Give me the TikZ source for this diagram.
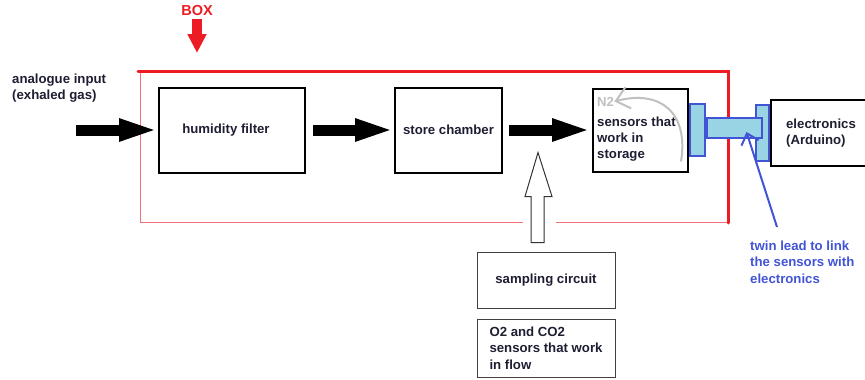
\documentclass[tikz,border=0pt]{standalone}
\usepackage{fontspec}
\setmainfont{Liberation Sans}
\usetikzlibrary{
  arrows.meta,
  positioning
}
\definecolor{boxred}{RGB}{237,28,36}
\definecolor{thinred}{RGB}{242,112,120}
\definecolor{inkdark}{RGB}{30,30,50}
\definecolor{leadblue}{RGB}{66,84,214}
\definecolor{leadfill}{RGB}{152,212,228}
\definecolor{ntwogray}{RGB}{192,192,192}
\tikzset{
  txt/.style={font=\fontsize{13.2}{16.3}\selectfont\bfseries,
    text=inkdark,inner sep=0pt,align=left},
  block/.style={txt,draw=black,line width=2pt,minimum height=85pt},
  flowbox/.style={txt,draw=black!75,line width=1pt,minimum width=138pt},
  plate/.style={draw=leadblue,line width=2pt,fill=leadfill,inner sep=0pt},
  fatflow/.style={-{Triangle[length=40pt,width=20pt]},line width=11pt,draw=black},
  redflow/.style={-{Triangle[length=19pt,width=18pt]},line width=10pt,draw=boxred},
  ntwoflow/.style={-{Straight Barb[length=13pt,width=22pt]},line width=2pt,draw=ntwogray},
  leadptr/.style={-{Straight Barb[length=10pt,width=18pt]},line width=2pt,draw=leadblue},
  thickframe/.style={draw=boxred,line width=3pt,line cap=round},
  thinframe/.style={draw=thinred,line width=1pt},
  openarrow/.style={draw=black!80,fill=white,line width=1pt}
}

\begin{document}
\begin{tikzpicture}[x=1pt,y=-1pt]
  \useasboundingbox (0,0) rectangle (865,380);
  % the box
  \draw[thinframe] (140,71) -- (140,222) -- (523,222);
  \draw[thinframe] (556,222) -- (728,222);
  \draw[thickframe] (138,71) -- (728,71) -- (728,223);
  \node[txt,text=boxred,font=\fontsize{14.5}{16}\selectfont\bfseries] (boxlbl) at (197,11) {BOX};
  \coordinate (boxtail) at (197,19);
  \coordinate (boxtip) at (197,53);
  \draw[redflow] (boxtail) -- (boxtip);
  % main chain
  \node[block,minimum width=146pt] (hum) at (232,130) {\hspace*{-12pt}humidity filter};
  \node[block,minimum width=107pt,right=88pt of hum] (store) {store chamber};
  \node[block,minimum width=95pt,minimum height=83pt,right=89pt of store] (sens) {};
  \node[txt,anchor=west] (senstxt) at ([xshift=5pt,yshift=-9pt]sens.west)
    {sensors that\\work in\\storage};
  \node[txt,text=ntwogray,anchor=west] (ntwo) at ([xshift=5pt,yshift=-14pt]sens.north west) {N2};
  \draw[ntwoflow] ([xshift=-8pt,yshift=11pt]sens.south east)
    .. controls +(8,-50) and +(45,-12) .. (ntwo.east);
  \node[block,minimum width=100pt,minimum height=66pt,right=81pt of sens,yshift=-3pt] (elec)
    {electronics\\(Arduino)};
  \node[txt,anchor=west] (gastxt) at (12,88) {analogue input\\(exhaled gas)};
  \coordinate (gasin) at (76,130);
  \draw[fatflow] (gasin) -- ([xshift=1pt]hum.west);
  \draw[fatflow,shorten <=7pt,shorten >=-1pt] (hum.east) -- (store.west);
  \draw[fatflow,shorten <=6pt] (store.east) -- (sens.west);
  % twin lead
  \node[plate,minimum width=15pt,minimum height=52pt,anchor=west] (lplate) at (sens.east) {};
  \node[plate,minimum width=13pt,minimum height=56pt,anchor=east] (rplate) at (elec.west) {};
  \node[plate,minimum width=55pt,minimum height=20pt,anchor=west] (bar)
    at ([yshift=2pt]lplate.east) {};
  \coordinate (leadtip) at ([xshift=12pt,yshift=-4pt]bar.center);
  \coordinate (leadfoot) at (777,227);
  \draw[leadptr] (leadfoot) -- (leadtip);
  \node[txt,text=leadblue,anchor=west] (leadtxt) at (750,262)
    {twin lead to link\\the sensors with\\electronics};
  % sampling
  \node[flowbox,minimum height=56pt] (samp) at (546,280) {sampling circuit};
  \node[flowbox,minimum height=58pt,below=10pt of samp] (flowsens)
    {O2 and CO2\\sensors that work\\in flow};
  \draw[openarrow] ([xshift=-15pt,yshift=9pt]samp.north) -- ++(0,-46) -- ++(-6,0)
    -- ++(13,-44) -- ++(14,44) -- ++(-8,0) -- ++(0,46) -- cycle;
\end{tikzpicture}
\end{document}
